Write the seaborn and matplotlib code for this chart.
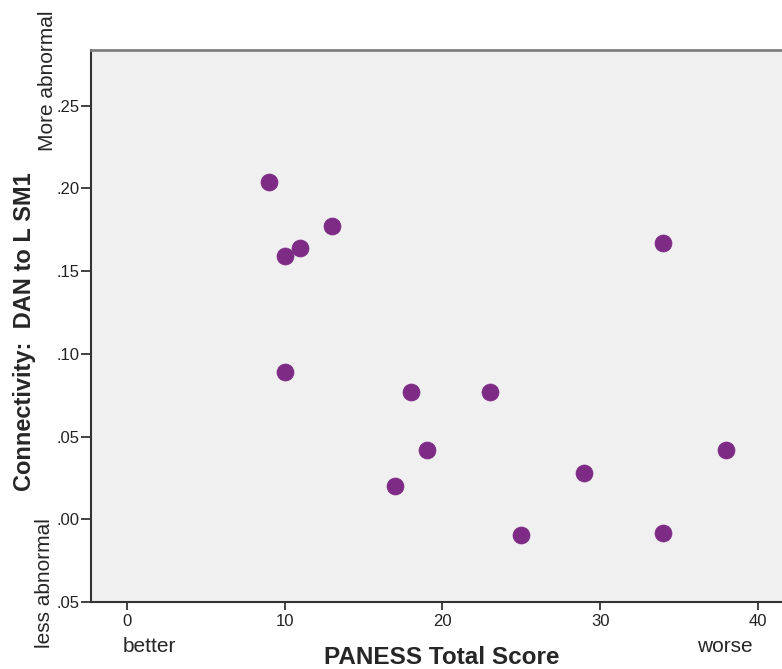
import matplotlib
matplotlib.use("Agg")
import matplotlib.pyplot as plt
import seaborn as sns
import pandas as pd
from matplotlib.ticker import FuncFormatter

paness = [9, 10, 11, 13, 34, 10, 18, 23, 19, 17, 25, 29, 34, 38]
connectivity = [0.204, 0.159, 0.164, 0.177, 0.167, 0.089, 0.077, 0.077,
                0.042, 0.020, -0.0095, 0.028, -0.0085, 0.042]
x_ticks = [0, 10, 20, 30, 40]
y_ticks = [-0.05, 0.00, 0.05, 0.10, 0.15, 0.20, 0.25]

df = pd.DataFrame({"PANESS Total Score": paness, "Connectivity": connectivity})

sns.set_style("white")
regular = ["Liberation Sans", "DejaVu Sans"]
plt.rcParams["font.family"] = regular

fig = plt.figure(figsize=(7.82, 6.69), dpi=100)
ax = fig.add_axes([91 / 782, 67 / 669, 700 / 782, 552 / 669])
ax.set_facecolor("#F0F0F0")

sns.scatterplot(data=df, x="PANESS Total Score", y="Connectivity", ax=ax,
                color="#7D2B85", s=150, edgecolor="#7D2B85", linewidth=0.5,
                zorder=3)

ax.set_xlim(-2.27, 42.1)
ax.set_ylim(-0.05, 0.2836)
ax.set_xticks(x_ticks)
ax.set_yticks(y_ticks)
ax.yaxis.set_major_formatter(FuncFormatter(lambda v, p: ("%.2f" % abs(v))[1:]))
ax.xaxis.set_major_formatter(FuncFormatter(lambda v, p: "%d" % v))
ax.tick_params(axis="x", direction="out", length=5.5, width=1.2, color="#222222",
               labelsize=12, pad=3.5, labelcolor="#222222")
ax.tick_params(axis="y", direction="out", length=7.5, width=1.2, color="#222222",
               labelsize=12, pad=0.5, labelcolor="#222222")
ax.tick_params(left=True, bottom=True)

for side in ["left", "bottom"]:
    ax.spines[side].set_color("#333333")
    ax.spines[side].set_linewidth(1.5)
ax.spines["top"].set_color("#808080")
ax.spines["top"].set_linewidth(2)
ax.spines["right"].set_visible(False)

ax.set_xlabel("")
ax.set_ylabel("")
fig.text(442 / 782, 1 - 657 / 669, "PANESS Total Score", ha="center", va="center",
         fontsize=17.5, fontweight="bold")
fig.text(25 / 782, 1 - 332 / 669, "Connectivity:  DAN to L SM1", ha="center", va="center",
         rotation=90, fontsize=17, fontweight="bold")
fig.text(149 / 782, 1 - 646 / 669, "better", ha="center", va="center", fontsize=15)
fig.text(725 / 782, 1 - 646 / 669, "worse", ha="center", va="center", fontsize=15)
fig.text(47.5 / 782, 1 - 81 / 669, "More abnormal", ha="center", va="center",
         rotation=90, fontsize=15)
fig.text(44 / 782, 1 - 583 / 669, "less abnormal", ha="center", va="center",
         rotation=90, fontsize=15)

fig.savefig("out.png", dpi=100)
